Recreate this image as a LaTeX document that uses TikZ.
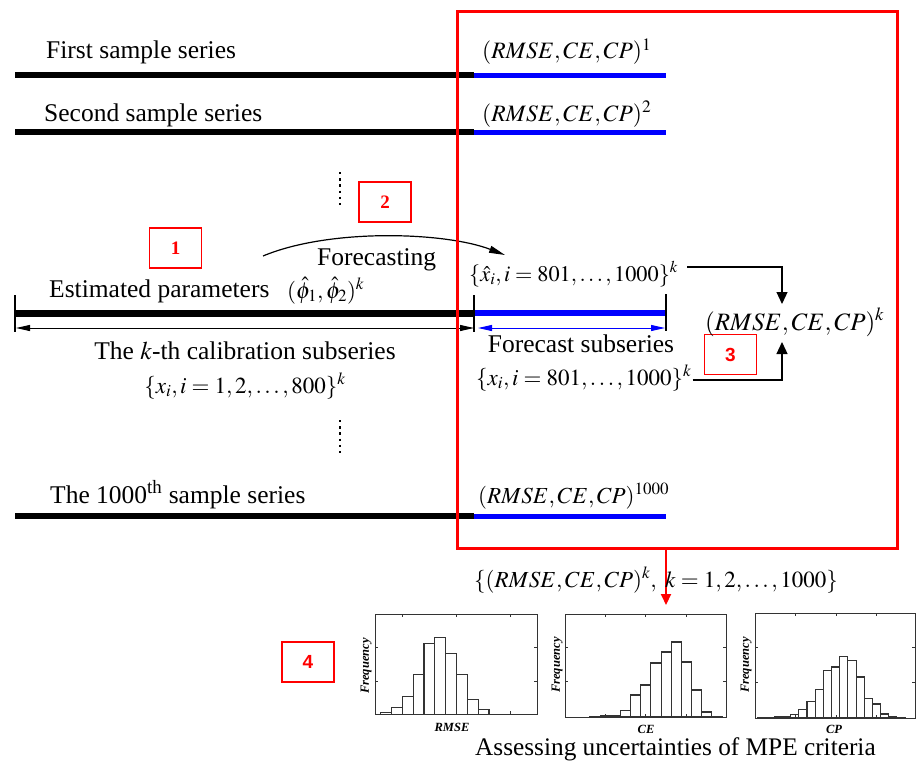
\documentclass[tikz,border=0pt]{standalone}
\usepackage{mathptmx}
\usepackage{fontspec}
\setmainfont{Liberation Serif}
\newfontfamily\markersans{Liberation Sans}
\usetikzlibrary{arrows.meta}

\begin{document}
\begin{tikzpicture}[x=1pt,y=-1pt,
  lbl/.style={inner sep=0pt, font=\fontsize{25.5}{29}\selectfont},
  tlbl/.style={inner sep=0pt, font=\fontsize{23.5}{27}\selectfont},
  mlbl/.style={inner sep=0pt, font=\fontsize{23}{27}\selectfont},
  biglbl/.style={inner sep=0pt, font=\fontsize{25}{29}\selectfont},
  series/.style={line width=6pt},
  fseries/.style={line width=5pt, blue},
  kseries/.style={line width=7pt},
  kfseries/.style={line width=6pt, blue},
  endmark/.style={line width=2.5pt},
  span/.style={line width=1pt, {Triangle[length=14pt,width=6pt]}-{Triangle[length=14pt,width=6pt]}},
  marker/.style={draw=red, line width=1.3pt, fill=white, text=red, minimum width=52pt,
    minimum height=40pt, inner sep=0pt, font=\fontsize{19}{21}\selectfont\bfseries},
  sansmarker/.style={marker, font=\markersans\bfseries\fontsize{19}{21}\selectfont},
  dotcol/.style={line width=2.6pt, dash pattern=on 2.4pt off 3.8pt},
  link/.style={line width=1.2pt, -{Triangle[length=12pt,width=11pt]}},
  hframe/.style={draw=black!80, line width=1.1pt, inner sep=0pt, anchor=north west},
  bar/.style={draw=black!80, line width=1.1pt, fill=white},
  htick/.style={draw=black!80, line width=0.8pt},
  axlbl/.style={inner sep=0pt, font=\fontsize{12.5}{14}\selectfont\bfseries\itshape},
]
\fill[white] (0,0) rectangle (917,760);
\useasboundingbox (0,0) rectangle (917,760);

% ---- sample series 1 and 2 ----
\coordinate (s1a) at (15,75);  \coordinate (s1b) at (474,75);  \coordinate (s1c) at (666,75);
\coordinate (s2a) at (15,132); \coordinate (s2b) at (474,132); \coordinate (s2c) at (666,132);
\draw[series] (s1a) -- (s1b); \draw[fseries] (s1b) -- (s1c);
\draw[series] (s2a) -- (s2b); \draw[fseries] (s2b) -- (s2c);
\node[lbl, anchor=base west] (t1) at (46,59) {First sample series};
\node[tlbl, anchor=base west] (m1) at (482,59) {$(RMSE,CE,CP)^{1}$};
\node[lbl, anchor=base west] (t2) at (44,121) {Second sample series};
\node[tlbl, anchor=base west] (m2) at (482,121) {$(RMSE,CE,CP)^{2}$};

% ---- ellipsis marks ----
\coordinate (d1a) at (340,172); \coordinate (d1b) at (340,207);
\coordinate (d2a) at (340,420); \coordinate (d2b) at (340,455);
\draw[dotcol] (d1a) -- (d1b);
\draw[dotcol] (d2a) -- (d2b);

% ---- step markers ----
\node[marker] (n1) at (175.5,248) {1};
\node[marker] (n2) at (385,202) {2};
\node[sansmarker] (n3) at (730.5,354.5) {3};
\node[sansmarker] (n4) at (308,662) {4};

% ---- k-th series ----
\coordinate (ka) at (15,313); \coordinate (kb) at (474,313); \coordinate (kc) at (666,313);
\draw[kseries] (ka) -- (kb); \draw[kfseries] (kb) -- (kc);
\draw[endmark] (15,295) -- (15,332);
\draw[endmark] (474,295) -- (474,332);
\draw[endmark] (666,294) -- (666,331);
\coordinate (ca) at (16,328); \coordinate (cb) at (474,328);
\coordinate (fa) at (478,328); \coordinate (fb) at (665,328);
\draw[span] (ca) -- (cb);
\draw[span, blue] (fa) -- (fb);

\node[lbl, anchor=base west] (est) at (49,297) {Estimated parameters};
\node[mlbl, anchor=base west] (phi) at (287,298) {$(\hat{\phi}_1,\hat{\phi}_2)^{k}$};
\node[lbl, anchor=base west] (fc) at (317,265) {Forecasting};
\node[lbl, anchor=base] (cal) at (245,359) {The $k$-th calibration subseries};
\node[mlbl, anchor=base] (calset) at (245,393) {$\{x_i, i=1,2,\ldots,800\}^{k}$};
\node[inner sep=0pt, font=\fontsize{22.3}{26}\selectfont, anchor=base west] (xhat) at (469,281)
  {$\{\hat{x}_i, i=801,\ldots,1000\}^{k}$};
\node[lbl, anchor=base] (fsub) at (581,352) {Forecast subseries};
\node[mlbl, anchor=base west] (fset) at (476,385) {$\{x_i, i=801,\ldots,1000\}^{k}$};
\node[biglbl, anchor=base west] (mk) at (705,330) {$(RMSE,CE,CP)^{k}$};

% forecasting arc
\coordinate (fcs) at (263,256); \coordinate (fce) at (505,255);
\draw[line width=1.2pt, -{Triangle[length=16pt,width=7pt]}]
  (fcs) .. controls (330,228) and (445,232) .. (fce);

% criteria computation
\coordinate (kin1) at (782,304); \coordinate (kin2) at (782,342);
\draw[link] ([shift={(9,-14)}]xhat.base east) -| (kin1);
\draw[link] ([shift={(1,-5)}]fset.base east) -| (kin2);

% ---- 1000th series ----
\coordinate (s3a) at (15,516); \coordinate (s3b) at (474,516); \coordinate (s3c) at (666,516);
\draw[series] (s3a) -- (s3b); \draw[fseries] (s3b) -- (s3c);
\node[lbl, anchor=base west] (t3) at (50,503) {The 1000\textsuperscript{th} sample series};
\node[mlbl, anchor=base west] (m3) at (478,503) {$(RMSE,CE,CP)^{1000}$};

% ---- evaluation panel ----
\node[draw=red, line width=3pt, minimum width=440pt, minimum height=537pt, inner sep=0pt,
  anchor=north west] (panel) at (456,10) {};
\coordinate (hin) at (666,605);
\draw[line width=2pt, red, -{Triangle[length=11pt,width=10pt]}] (panel.south -| hin) -- (hin);
\node[mlbl, anchor=base west] (allset) at (474,587) {$\{(RMSE,CE,CP)^{k},\ k=1,2,\ldots,1000\}$};

% ---- histograms ----
% RMSE
\foreach \h [count=\i from 0] in {2,6.7,18,40,71,77,61,40,15,5}
  \draw[bar] (380.7+\i*10.83,714.3) rectangle ++(10.83,-\h);
\node[hframe, minimum width=162pt, minimum height=100pt] (hR) at (375,614.3) {};
\foreach \t in {402.3,456.7,510.7} {\draw[htick] (\t,614.3) -- ++(0,3); \draw[htick] (\t,714.3) -- ++(0,-3);}
\foreach \t in {647.7,681} {\draw[htick] (375,\t) -- ++(3,0); \draw[htick] (537,\t) -- ++(-3,0);}
\node[axlbl, rotate=90] (fR) at (366,666) {Frequency};
\node[axlbl] (lR) at (452,727) {RMSE};
% CE
\foreach \h [count=\i from 0] in {0.3,1,1,6.7,22,32,54,65,75,55,27,5,0.7}
  \draw[bar] (590+\i*10.15,717) rectangle ++(10.15,-\h);
\node[hframe, minimum width=161pt, minimum height=103pt] (hC) at (565,614) {};
\foreach \t in {605,645.7,686} {\draw[htick] (\t,614) -- ++(0,3); \draw[htick] (\t,717) -- ++(0,-3);}
\foreach \t in {647.7,681.7} {\draw[htick] (565,\t) -- ++(3,0); \draw[htick] (726,\t) -- ++(-3,0);}
\node[axlbl, rotate=90] (fC) at (557,665) {Frequency};
\node[axlbl] (lC) at (646,729) {CE};
% CP
\foreach \h [count=\i from 0] in {0.3,0,1,1.7,3.3,8.3,16.7,28.3,47.7,51,61.3,57.3,41,19.7,14,4,1.7,0.7}
  \draw[bar] (758+\i*8.17,718) rectangle ++(8.17,-\h);
\node[hframe, minimum width=160pt, minimum height=105pt] (hP) at (755,613) {};
\foreach \t in {795.7,836,876} {\draw[htick] (\t,613) -- ++(0,3); \draw[htick] (\t,718) -- ++(0,-3);}
\foreach \t in {647.7,682.7} {\draw[htick] (755,\t) -- ++(3,0); \draw[htick] (915,\t) -- ++(-3,0);}
\node[axlbl, rotate=90] (fP) at (746,665) {Frequency};
\node[axlbl] (lP) at (834,729) {CP};

\node[inner sep=0pt, font=\fontsize{25.3}{29}\selectfont, anchor=base west] (assess) at (475,755)
  {Assessing uncertainties of MPE criteria};
\end{tikzpicture}
\end{document}
